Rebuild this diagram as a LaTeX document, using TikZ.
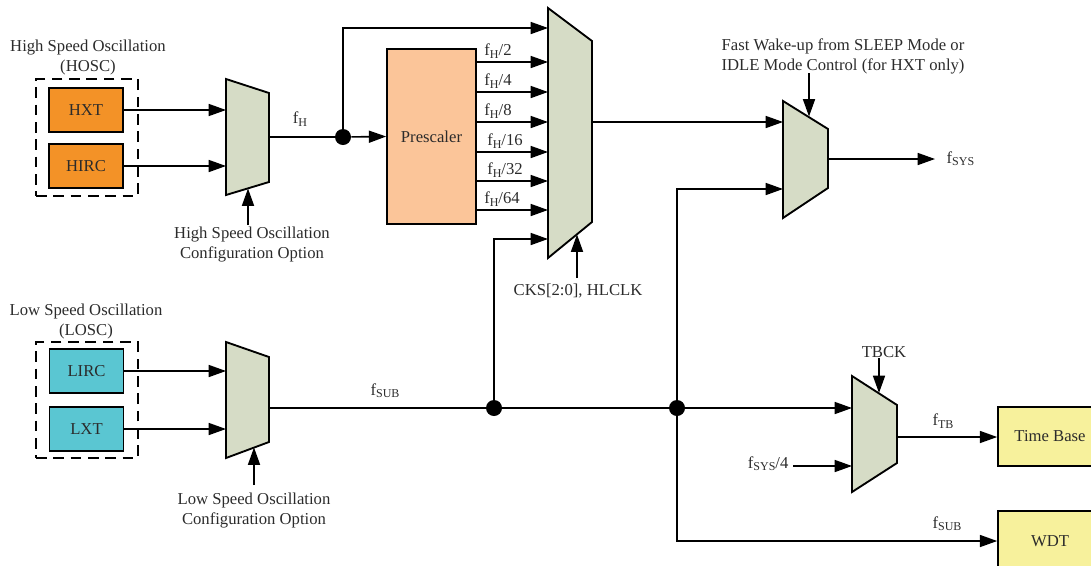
\documentclass[tikz,border=0pt]{standalone}
\usepackage{fontspec}
\setmainfont{Liberation Serif}
\usetikzlibrary{arrows.meta}
\definecolor{txt}{HTML}{2B2B2B}
\definecolor{hosc}{HTML}{F39227}
\definecolor{presc}{HTML}{FBC599}
\definecolor{losc}{HTML}{5AC6D2}
\definecolor{muxc}{HTML}{D6DCC6}
\definecolor{ylw}{HTML}{F7F19C}
\newcommand{\sbx}[1]{\raisebox{-0.3ex}{\fontsize{9}{9}\selectfont #1}}
\begin{document}
\begin{tikzpicture}[x=0.75pt,y=-0.75pt,
  every node/.style={text=txt,font=\fontsize{12.5}{15}\selectfont},
  wire/.style={line width=1.2pt,draw=black},
  arr/.style={wire,-{Triangle[length=13pt,width=9pt]}},
  box/.style={draw=black,line width=1.2pt,minimum width=#1*0.75pt,inner sep=0pt},
  muxs/.style={draw=black,line width=1.4pt,fill=muxc,line join=miter},
  grp/.style={draw=black!80,line width=1.2pt,dash pattern=on 8pt off 5pt},
  dotc/.style={circle,fill=black,minimum size=12pt,inner sep=0pt},
  lbl/.style={inner sep=1pt}]
\useasboundingbox (0,0) rectangle (1091,565);

% groups
\node[grp,box=102,minimum height=117*0.75pt] (hgrp) at (87,137.5) {};
\node[grp,box=102,minimum height=116*0.75pt] (lgrp) at (87,400) {};
\node[lbl] (hlab) at (88,57) {\begin{tabular}{@{}c@{}}High Speed Oscillation\\(HOSC)\end{tabular}};
\node[lbl] (llab) at (86,321) {\begin{tabular}{@{}c@{}}Low Speed Oscillation\\(LOSC)\end{tabular}};

% sources
\node[box=74,minimum height=44*0.75pt,fill=hosc] (hxt) at (86,110) {HXT};
\node[box=74,minimum height=44*0.75pt,fill=hosc] (hirc) at (86,166) {HIRC};
\node[box=74,minimum height=44*0.75pt,fill=losc] (lirc) at (86.5,371) {LIRC};
\node[box=74,minimum height=44*0.75pt,fill=losc] (lxt) at (86.5,429) {LXT};
\node[box=89,minimum height=175*0.75pt,fill=presc] (presc) at (431.5,136.5) {Prescaler};
\node[box=104,minimum height=59*0.75pt,fill=ylw] (tb) at (1050,436.5) {Time Base};
\node[box=104,minimum height=60*0.75pt,fill=ylw] (wdt) at (1050,541) {WDT};

% multiplexers
\draw[muxs] (226,79) -- (226,195) -- (269,182) -- (269,93) -- cycle;
\draw[muxs] (226,342) -- (226,458) -- (269,442) -- (269,357) -- cycle;
\draw[muxs] (548,8) -- (548,258) -- (592,222) -- (592,41) -- cycle;
\draw[muxs] (783,101) -- (783,218) -- (828,188) -- (828,129) -- cycle;
\draw[muxs] (852,376) -- (852,492) -- (897,463) -- (897,405) -- cycle;

% mux ports
\coordinate (m1a) at (226,110); \coordinate (m1b) at (226,166);
\coordinate (m1o) at (269,137); \coordinate (m1c) at (248,188.5);
\coordinate (m5a) at (226,371); \coordinate (m5b) at (226,429);
\coordinate (m5o) at (269,408); \coordinate (m5c) at (254,447.5);
\coordinate (m2top) at (548,28); \coordinate (m2bot) at (548,239);
\coordinate (m2o) at (592,122); \coordinate (m2c) at (577,234.5);
\coordinate (m3a) at (783,122); \coordinate (m3b) at (783,189);
\coordinate (m3o) at (828,159); \coordinate (m3c) at (809,116.5);
\coordinate (m4a) at (852,408); \coordinate (m4b) at (852,466);
\coordinate (m4o) at (897,437); \coordinate (m4c) at (879,393);

% junctions
\node[dotc] (j1) at (343,137) {};
\node[dotc] (j2) at (494,408) {};
\node[dotc] (j3) at (677,408) {};

% connectors
\draw[arr] (hxt.east) -- (m1a);
\draw[arr] (hirc.east) -- (m1b);
\draw[arr] (lirc.east) -- (m5a);
\draw[arr] (lxt.east) -- (m5b);
\draw[wire] (m1o) -- (j1);
\draw[arr] (j1) -- (presc.west);
\draw[arr] (j1.center) |- (m2top);
\foreach \yy/\dd/\xx in {62/2/498,92/4/498,122/8/498,152/16/505,181/32/505,210/64/502}{
  \coordinate (pin\dd) at (548,\yy);
  \draw[arr] (presc.east |- pin\dd) -- (pin\dd);
  \node[lbl] (plab\dd) at (\xx,\yy-11) {f\sbx{H}/\dd};
}
\draw[arr] (m2o) -- (m3a);
\coordinate (fsysend) at (935,159);
\draw[arr] (m3o) -- (fsysend);
\draw[wire] (m5o) -- (j2) -- (j3);
\draw[arr] (j3) -- (m4a);
\draw[arr] (j2.center) |- (m2bot);
\draw[arr] (j3.center) |- (m3b);
\draw[arr] (j3.center) |- (wdt.west);
\draw[arr] (m4o) -- (m4o -| tb.west);

% control inputs
\coordinate (c1) at (248,225); \draw[arr] (c1) -- (m1c);
\coordinate (c5) at (254,485); \draw[arr] (c5) -- (m5c);
\coordinate (c2) at (577,278); \draw[arr] (c2) -- (m2c);
\coordinate (c3) at (809,73); \draw[arr] (c3) -- (m3c);
\coordinate (c4) at (879,358); \draw[arr] (c4) -- (m4c);
\coordinate (fs4) at (793,466); \draw[arr] (fs4) -- (m4b);

% labels
\node[lbl] (lfh) at (300,119) {f\sbx{H}};
\node[lbl] (lfsub) at (385,391) {f\sbx{SUB}};
\node[lbl,anchor=west] (lfsys) at (945,159) {f\sbx{SYS}};
\node[lbl] (lftb) at (943,421) {f\sbx{TB}};
\node[lbl] (lfsub2) at (947,524) {f\sbx{SUB}};
\node[lbl,anchor=east] (lfs4) at (790,464) {f\sbx{SYS}/4};
\node[lbl] (ltbck) at (884,352) {TBCK};
\node[lbl] (lcks) at (578,291) {CKS[2:0], HLCLK};
\node[lbl] (lwake) at (843,56) {\begin{tabular}{@{}c@{}}Fast Wake-up from SLEEP Mode or\\IDLE Mode Control (for HXT only)\end{tabular}};
\node[lbl] (lhcfg) at (252,244) {\begin{tabular}{@{}c@{}}High Speed Oscillation\\Configuration Option\end{tabular}};
\node[lbl] (llcfg) at (254,510) {\begin{tabular}{@{}c@{}}Low Speed Oscillation\\Configuration Option\end{tabular}};
\end{tikzpicture}
\end{document}
